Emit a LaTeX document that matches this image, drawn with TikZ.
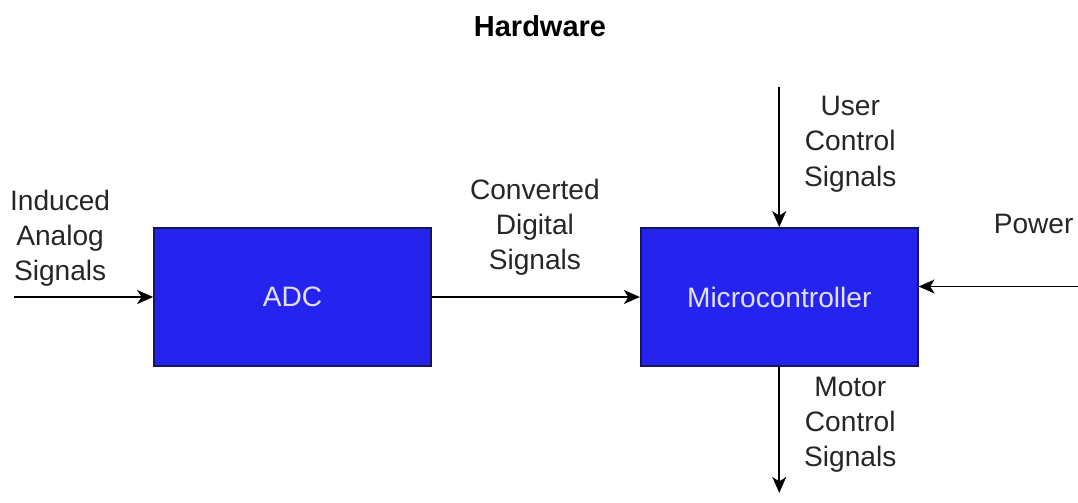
\documentclass[tikz,border=0pt]{standalone}
\usepackage{fontspec}
\setmainfont{Liberation Sans}
\usetikzlibrary{positioning,arrows.meta}
\definecolor{boxblue}{RGB}{36,36,238}
\definecolor{boxline}{RGB}{22,22,90}
\definecolor{boxtext}{RGB}{225,225,255}
\tikzset{
    module/.style={%
        draw=boxline, fill=boxblue, line width=1pt,
        minimum width=5.54cm,
        minimum height=2.76cm,
        text=boxtext,
        font=\fontsize{16}{20}\selectfont
        },
    sig/.style={%
        align=center, text=black!85,
        font=\fontsize{16}{20}\selectfont
        },
    >={Stealth[length=3.2mm,width=2.8mm,inset=0.9mm]}
}

\begin{document}
\begin{tikzpicture}

\useasboundingbox (0,0) rectangle (21.56,-10.04);

\node[font=\bfseries\fontsize{16.5}{20}\selectfont] (title) at (10.8,-0.52) {Hardware};

\node[module] (ADC) at (5.85,-5.94) {ADC};

\node[module, right=4.16cm of ADC] (MCU) {Microcontroller};

\coordinate[left=2.78cm of ADC.west] (in);
\coordinate[above=2.8cm of MCU.north] (user);
\coordinate (power) at ([shift={(3.26cm,0.21cm)}]MCU.east);
\coordinate[below=2.52cm of MCU.south] (motor);

\node[sig] (inText) at ([shift={(-1.86cm,1.18cm)}]ADC.west) {Induced\\Analog\\Signals};
\node[sig] (convText) at ([shift={(2.06cm,1.4cm)}]ADC.east) {Converted\\Digital\\Signals};
\node[sig] (userText) at ([shift={(1.42cm,1.66cm)}]MCU.north) {User\\Control\\Signals};
\node[sig] (powerText) at ([shift={(2.3cm,1.47cm)}]MCU.east) {Power};
\node[sig] (motorText) at ([shift={(1.42cm,-1.16cm)}]MCU.south) {Motor\\Control\\Signals};

\draw[->, line width=1.1pt] (in) -- (ADC.west);
\draw[->, line width=1.1pt] (ADC) -- (MCU);
\draw[->, line width=1.1pt] (user) -- (MCU.north);
\draw[->, line width=1.1pt] (power) -- (power -| MCU.east);
\draw[->, line width=1.1pt] (MCU.south) -- (motor);

\end{tikzpicture}
\end{document}
